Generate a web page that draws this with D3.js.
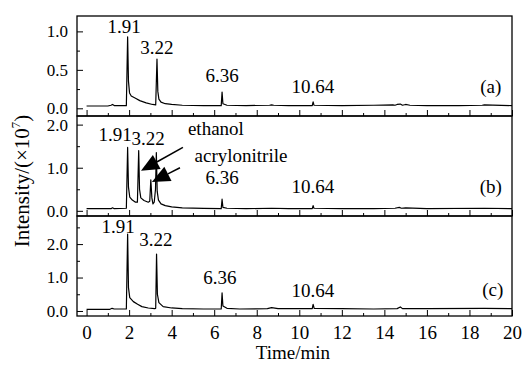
<!DOCTYPE html>
<html>
<head>
<meta charset="utf-8">
<script src="https://cdn.jsdelivr.net/npm/d3@7"></script>
<style>
  body { margin: 0; background: #fff; }
  svg { display: block; font-family: "Liberation Serif", "Times New Roman", serif; }
</style>
</head>
<body>
<div id="chart"></div>
<script>
// chromatograms, time in min, intensity in 1e7
const timeA = [0, 1.0, 1.15, 1.22, 1.3, 1.87, 1.93, 1.97, 2.02, 2.1, 2.3, 2.5, 2.8, 3.1, 3.25, 3.31, 3.35, 3.4, 3.5, 3.7, 4.0, 4.5, 5.5, 6.33, 6.37, 6.41, 6.6, 7.5, 8.6, 8.7, 8.8, 9.5, 10.61, 10.65, 10.69, 12, 13.5, 14.4, 14.5, 14.6, 14.75, 14.85, 15.0, 15.2, 16, 17.5, 18.6, 18.7, 20];
const intA = [0.03, 0.03, 0.04, 0.05, 0.035, 0.035, 0.93, 0.35, 0.2, 0.16, 0.13, 0.1, 0.07, 0.05, 0.045, 0.64, 0.22, 0.12, 0.08, 0.06, 0.05, 0.04, 0.035, 0.035, 0.21, 0.06, 0.04, 0.035, 0.04, 0.045, 0.04, 0.035, 0.035, 0.085, 0.04, 0.035, 0.04, 0.045, 0.04, 0.05, 0.055, 0.04, 0.05, 0.04, 0.035, 0.035, 0.04, 0.045, 0.035];

const timeB = [0, 1.15, 1.22, 1.3, 1.87, 1.93, 1.97, 2.03, 2.15, 2.3, 2.39, 2.45, 2.49, 2.55, 2.7, 2.9, 2.97, 3.02, 3.07, 3.12, 3.18, 3.24, 3.28, 3.32, 3.38, 3.5, 3.7, 4.0, 4.5, 5.5, 6.33, 6.37, 6.41, 6.6, 7.5, 8.7, 9.5, 10.61, 10.65, 10.69, 12, 13.5, 14.5, 14.7, 14.8, 15.0, 16, 18.7, 20];
const intB = [0.05, 0.05, 0.07, 0.05, 0.06, 1.47, 0.55, 0.32, 0.25, 0.2, 0.2, 1.4, 0.5, 0.3, 0.24, 0.2, 0.22, 0.72, 0.3, 0.16, 0.2, 0.5, 1.35, 0.45, 0.25, 0.16, 0.12, 0.09, 0.07, 0.055, 0.05, 0.27, 0.08, 0.06, 0.05, 0.06, 0.05, 0.05, 0.12, 0.06, 0.05, 0.05, 0.06, 0.08, 0.06, 0.07, 0.05, 0.06, 0.05];

const timeC = [0, 1.1, 1.2, 1.3, 1.87, 1.93, 1.97, 2.03, 2.2, 2.4, 2.6, 2.9, 3.2, 3.25, 3.29, 3.33, 3.4, 3.6, 4.0, 4.5, 5.5, 6.33, 6.37, 6.41, 6.6, 7.2, 8.5, 8.7, 9.0, 10.61, 10.65, 10.7, 12, 13.5, 14.6, 14.75, 14.85, 16, 18.7, 20];
const intC = [0.05, 0.05, 0.08, 0.06, 0.06, 2.3, 0.7, 0.4, 0.28, 0.2, 0.13, 0.09, 0.07, 0.08, 1.7, 0.5, 0.25, 0.13, 0.09, 0.07, 0.06, 0.06, 0.54, 0.15, 0.08, 0.06, 0.07, 0.1, 0.07, 0.07, 0.2, 0.08, 0.07, 0.06, 0.07, 0.12, 0.07, 0.07, 0.08, 0.07];

const xTicks = [0, 2, 4, 6, 8, 10, 12, 14, 16, 18, 20];
const xMinor = [1, 3, 5, 7, 9, 11, 13, 15, 17, 19];
const yTicksA = [0, 0.5, 1.0];
const yMinorA = [0.25, 0.75];
const yTicksBC = [0, 1.0, 2.0];
const yMinorB = [0.5, 1.5];
const yMinorC = [0.5, 1.5, 2.5];

// peak labels: [text, time, intensity] (anchor in data units)
const labelsA = [["1.91", 1.76, 0.98], ["3.22", 3.31, 0.70], ["6.36", 6.37, 0.34], ["10.64", 10.64, 0.2], ["(a)", 19.0, 0.2]];
const labelsB = [["1.91", 1.34, 1.62], ["3.22", 2.89, 1.53], ["ethanol", 6.08, 1.76], ["acrylonitrile", 7.26, 1.13], ["6.36", 6.37, 0.62], ["10.64", 10.64, 0.41], ["(b)", 19.0, 0.41]];
const labelsC = [["1.91", 1.48, 2.33], ["3.22", 3.26, 1.94], ["6.36", 6.27, 0.81], ["10.64", 10.64, 0.42], ["(c)", 19.1, 0.45]];
// arrows in panel b: [tailT, tailV, tipT, tipV]
const arrowsB = [[4.53, 1.47, 2.56, 0.93], [4.39, 1.0, 3.07, 0.67]];

const W = 523, H = 365;
const left = 77, right = 512, top0 = 16, ph = 100;

const svg = d3.select("#chart").append("svg")
  .attr("width", W)
  .attr("height", H);

const x = d3.scaleLinear().domain([-0.45, 20]).range([left, right]);

const panels = [
  { t: timeA, v: intA, domain: [-0.1, 1.2], ticks: yTicksA, minor: yMinorA, labels: labelsA, arrows: [] },
  { t: timeB, v: intB, domain: [-0.12, 2.2], ticks: yTicksBC, minor: yMinorB, labels: labelsB, arrows: arrowsB },
  { t: timeC, v: intC, domain: [-0.15, 2.84], ticks: yTicksBC, minor: yMinorC, labels: labelsC, arrows: [] }
];

panels.forEach((p, i) => {
  const y0 = top0 + i * ph;
  const y = d3.scaleLinear().domain(p.domain).range([y0 + ph, y0]);
  const g = svg.append("g");

  // y axis major + minor, inward ticks
  g.append("g")
    .attr("class", "yax")
    .attr("transform", "translate(" + left + ",0)")
    .call(d3.axisLeft(y).tickValues(p.ticks).tickSize(-6).tickPadding(9).tickFormat(d3.format(".1f")))
    .call(a => a.select(".domain").remove());
  g.append("g")
    .attr("transform", "translate(" + left + ",0)")
    .call(d3.axisLeft(y).tickValues(p.minor).tickSize(-3).tickFormat(""))
    .call(a => a.select(".domain").remove());

  // x axis at panel bottom
  g.append("g")
    .attr("class", "xax")
    .attr("transform", "translate(0," + (y0 + ph) + ")")
    .call(d3.axisBottom(x).tickValues(xTicks).tickSize(-6).tickPadding(10)
      .tickFormat(i === 2 ? d3.format("d") : ""))
    .call(a => a.select(".domain").remove());
  g.append("g")
    .attr("transform", "translate(0," + (y0 + ph) + ")")
    .call(d3.axisBottom(x).tickValues(xMinor).tickSize(-3).tickFormat(""))
    .call(a => a.select(".domain").remove());

  g.selectAll(".tick line").attr("stroke", "#000").attr("stroke-width", 1);
  g.selectAll(".tick text").attr("fill", "#000")
    .attr("font-family", "'Liberation Serif', 'Times New Roman', serif");
  g.selectAll(".yax .tick text").attr("font-size", 17);
  g.selectAll(".xax .tick text").attr("font-size", 19);

  // trace
  const pts = p.t.map((t, k) => [t, p.v[k]]);
  g.append("path")
    .datum(pts)
    .attr("fill", "none")
    .attr("stroke", "#000")
    .attr("stroke-width", 1.2)
    .attr("stroke-linejoin", "round")
    .attr("d", d3.line().x(d => x(d[0])).y(d => y(d[1])));

  // frame
  g.append("rect")
    .attr("x", left).attr("y", y0)
    .attr("width", right - left).attr("height", ph)
    .attr("fill", "none").attr("stroke", "#000").attr("stroke-width", 1.3);

  // labels
  g.selectAll(".lbl")
    .data(p.labels)
    .join("text")
    .attr("x", d => x(d[1]))
    .attr("y", d => y(d[2]))
    .attr("text-anchor", "middle")
    .attr("font-size", 19)
    .text(d => d[0]);

  // arrows
  p.arrows.forEach(a => {
    const x1 = x(a[0]), y1 = y(a[1]), x2 = x(a[2]), y2 = y(a[3]);
    const ang = Math.atan2(y2 - y1, x2 - x1);
    const hl = 18, hw = 8;
    const bx = x2 - hl * Math.cos(ang), by = y2 - hl * Math.sin(ang);
    g.append("line")
      .attr("x1", x1).attr("y1", y1).attr("x2", bx).attr("y2", by)
      .attr("stroke", "#000").attr("stroke-width", 1.5);
    g.append("path")
      .attr("d", "M" + x2 + "," + y2 +
        "L" + (bx + hw * Math.sin(ang)) + "," + (by - hw * Math.cos(ang)) +
        "L" + (bx - hw * Math.sin(ang)) + "," + (by + hw * Math.cos(ang)) + "Z")
      .attr("fill", "#000");
  });
});

// axis titles
svg.append("text")
  .attr("x", 293)
  .attr("y", 359)
  .attr("text-anchor", "middle")
  .attr("font-size", 19)
  .text("Time/min");

const yl = svg.append("text")
  .attr("transform", "translate(29,181) rotate(-90)")
  .attr("text-anchor", "middle")
  .attr("font-size", 21);
yl.append("tspan").text("Intensity/(\u00d710");
yl.append("tspan").attr("font-size", 13).attr("dy", -9).text("7");
yl.append("tspan").attr("dy", 9).text(")");
</script>
</body>
</html>
